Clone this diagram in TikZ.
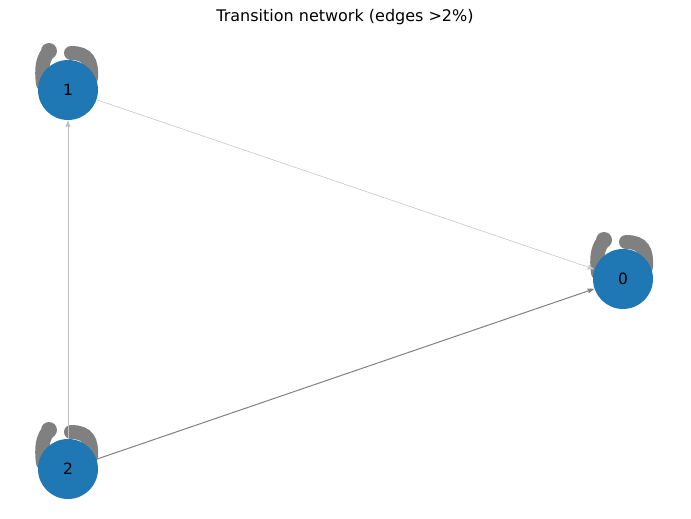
\documentclass[tikz,border=0pt]{standalone}
\usepackage{fontspec}
\setmainfont{DejaVu Sans}
\usetikzlibrary{arrows.meta}
\definecolor{nodeblue}{HTML}{1F77B4}
\definecolor{loopgray}{HTML}{808080}
\begin{document}
\begin{tikzpicture}[x=1pt,y=-1pt,
  state/.style={circle,fill=nodeblue,draw=none,minimum size=60pt,inner sep=0pt,font=\fontsize{15.5}{18}\selectfont},
  edge/.style={-{Stealth[length=7pt,width=5pt,inset=1pt]},line width=0.8pt},
  loopline/.style={draw=loopgray,line width=14pt,line cap=round}]
\useasboundingbox (0,0) rectangle (691,519);
\node[font=\fontsize{16}{20}\selectfont] (title) at (345,17) {Transition network (edges >2\%)};
% self loops
\foreach \cx/\cy in {68/90,623/279,68/469}{
  \begin{scope}[shift={(\cx,\cy)}]
    \draw[loopline] (3,-37) .. controls (20,-37) and (24,-28) .. (23,-12);
    \draw[loopline] (-25,-6) .. controls (-27,-22) and (-25,-30) .. (-21,-36);
    \fill[loopgray] (-19,-39) circle (8);
  \end{scope}
}
\node[state] (n1) at (68,90) {1};
\node[state] (n0) at (623,279) {0};
\node[state] (n2) at (68,469) {2};
\draw[edge,color=black!22,line width=0.6pt] (n1) -- (n0);
\draw[edge,color=black!25] (n2) -- (n1);
\draw[edge,color=loopgray,line width=1pt] (n2) -- (n0);
\end{tikzpicture}
\end{document}
